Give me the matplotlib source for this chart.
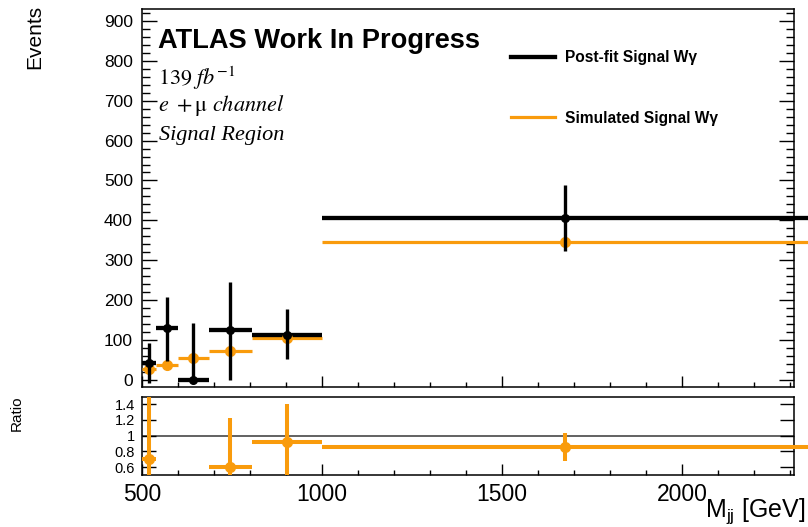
import numpy as np
import matplotlib
matplotlib.use("Agg")
import matplotlib.pyplot as plt
from matplotlib.lines import Line2D
from matplotlib.ticker import MultipleLocator, FixedLocator, FixedFormatter

# ---------------- data ----------------
bin_edges = [500, 540, 600, 685, 805, 1000, 2350]
postfit = [42, 130, 0, 124, 113, 405]
postfit_err_up = [50, 78, 142, 122, 65, 84]
postfit_err_dn = [50, 84, 0, 125, 61, 83]
simulated = [27, 36, 54, 73, 104, 346]
ratio = [0.70, np.nan, np.nan, 0.60, 0.92, 0.857]
ratio_err = [1.0, np.nan, np.nan, 0.62, 0.48, 0.175]
main_yticks = [0, 100, 200, 300, 400, 500, 600, 700, 800, 900]
ratio_yticks = [0.6, 0.8, 1.0, 1.2, 1.4]
ratio_yticklabels = ["0.6", "0.8", "1", "1.2", "1.4"]
xticks = [500, 1000, 1500, 2000]
legend_labels = ["Post-fit Signal W\u03b3", "Simulated Signal W\u03b3"]

# ---------------- style ----------------
plt.rcParams['font.family'] = ['Liberation Sans', 'DejaVu Sans']
plt.rcParams['mathtext.fontset'] = 'custom'
plt.rcParams['mathtext.rm'] = 'Liberation Sans'
plt.rcParams['mathtext.it'] = 'Liberation Sans:italic'
ORANGE = '#F99B0C'
BLACK = '#000000'

W, H = 808, 527
fig = plt.figure(figsize=(W / 100, H / 100), dpi=100)

def box(l, t, r, b):
    return [l / W, 1 - b / H, (r - l) / W, (b - t) / H]

ax = fig.add_axes(box(142, 9, 794, 387))
rax = fig.add_axes(box(142, 397, 794, 475))

edges = np.array(bin_edges, dtype=float)
lo, hi = edges[:-1], edges[1:]
centers = 0.5 * (lo + hi)

# ---- main panel ----
ax.hlines(simulated, lo, hi, colors=ORANGE, lw=2.3, zorder=3, clip_on=False)
ax.hlines(postfit, lo, hi, colors=BLACK, lw=3.1, zorder=4, clip_on=False)
ax.errorbar(centers, postfit, yerr=[postfit_err_dn, postfit_err_up], fmt='o',
            color=BLACK, ms=5.5, elinewidth=2.4, capsize=0, zorder=5)
ax.plot(centers, simulated, 'o', color=ORANGE, ms=7, zorder=4)

ax.set_xlim(500, 2311)
ax.set_ylim(-18, 930)
ax.yaxis.set_major_locator(FixedLocator(main_yticks))
ax.yaxis.set_minor_locator(MultipleLocator(20))
ax.xaxis.set_major_locator(FixedLocator(xticks))
ax.xaxis.set_minor_locator(MultipleLocator(100))
ax.tick_params(axis='both', which='both', direction='in', top=False, right=True)
ax.tick_params(axis='y', which='major', length=10.5, width=1.0, labelsize=12.5, pad=6.5)
ax.tick_params(axis='y', which='minor', length=5.5, width=1.0)
ax.tick_params(axis='x', which='major', length=8, width=1.0, labelbottom=False)
ax.tick_params(axis='x', which='minor', length=3.6, width=1.0)
for sp in ax.spines.values():
    sp.set_linewidth(1.1)

# legend
handles = [Line2D([], [], color=BLACK, lw=3.1), Line2D([], [], color=ORANGE, lw=2.3)]
leg = ax.legend(handles, legend_labels, loc='upper left',
                bbox_to_anchor=(511 / W, 1 - 50 / H), bbox_transform=fig.transFigure,
                frameon=False, borderpad=0, borderaxespad=0, handlelength=2.85,
                handletextpad=0.65, labelspacing=2.95,
                prop={'family': 'Liberation Sans', 'weight': 'bold', 'size': 11.2})

# info texts
fig.text(158 / W, 1 - 48 / H, "ATLAS Work In Progress", fontsize=19.6, fontweight='bold',
         ha='left', va='baseline')
fig.text(158 / W, 1 - 85 / H, r"$\mathit{139\ fb^{-1}}$", math_fontfamily='stix',
         fontsize=16, ha='left', va='baseline')
fig.text(158 / W, 1 - 111.5 / H, r"$\mathit{e}\ +\mathrm{\mu}\ \mathit{channel}$",
         math_fontfamily='stix', fontsize=16, ha='left', va='baseline')
fig.text(159 / W, 1 - 140 / H, "Signal Region", family='Liberation Serif', style='italic',
         fontsize=16, ha='left', va='baseline')

# axis labels
fig.text(34.5 / W, 1 - 5 / H, "Events", rotation=90, fontsize=15, ha='center', va='top')
fig.text(17 / W, 1 - 413 / H, "Ratio", rotation=90, fontsize=11, ha='center', va='center')
fig.text(806 / W, 1 - 517 / H, r"M$_{\rm jj}$ [GeV]", fontsize=18, ha='right', va='baseline')

# ---- ratio panel ----
rax.axhline(1.0, color='#555555', lw=1.3, zorder=1)
r = np.array(ratio)
re = np.array(ratio_err)
ok = ~np.isnan(r)
rax.hlines(r[ok], lo[ok], hi[ok], colors=ORANGE, lw=2.9, zorder=3, clip_on=False)
rax.errorbar(centers[ok], r[ok], yerr=re[ok], fmt='o', color=ORANGE, ms=7,
             elinewidth=2.9, capsize=0, zorder=4)
rax.set_xlim(500, 2311)
rax.set_ylim(0.5, 1.49)
rax.yaxis.set_major_locator(FixedLocator(ratio_yticks))
rax.yaxis.set_major_formatter(FixedFormatter(ratio_yticklabels))
rax.xaxis.set_major_locator(FixedLocator(xticks))
rax.xaxis.set_minor_locator(MultipleLocator(100))
rax.tick_params(axis='both', which='both', direction='in', top=False, right=True)
rax.tick_params(axis='y', which='major', length=10, width=1.0, labelsize=10.5, pad=5)
rax.tick_params(axis='x', which='major', length=8, width=1.0, labelsize=16.5, pad=6)
rax.tick_params(axis='x', which='minor', length=3.6, width=1.0)
for sp in rax.spines.values():
    sp.set_linewidth(1.1)

fig.savefig("out.png", dpi=100)
